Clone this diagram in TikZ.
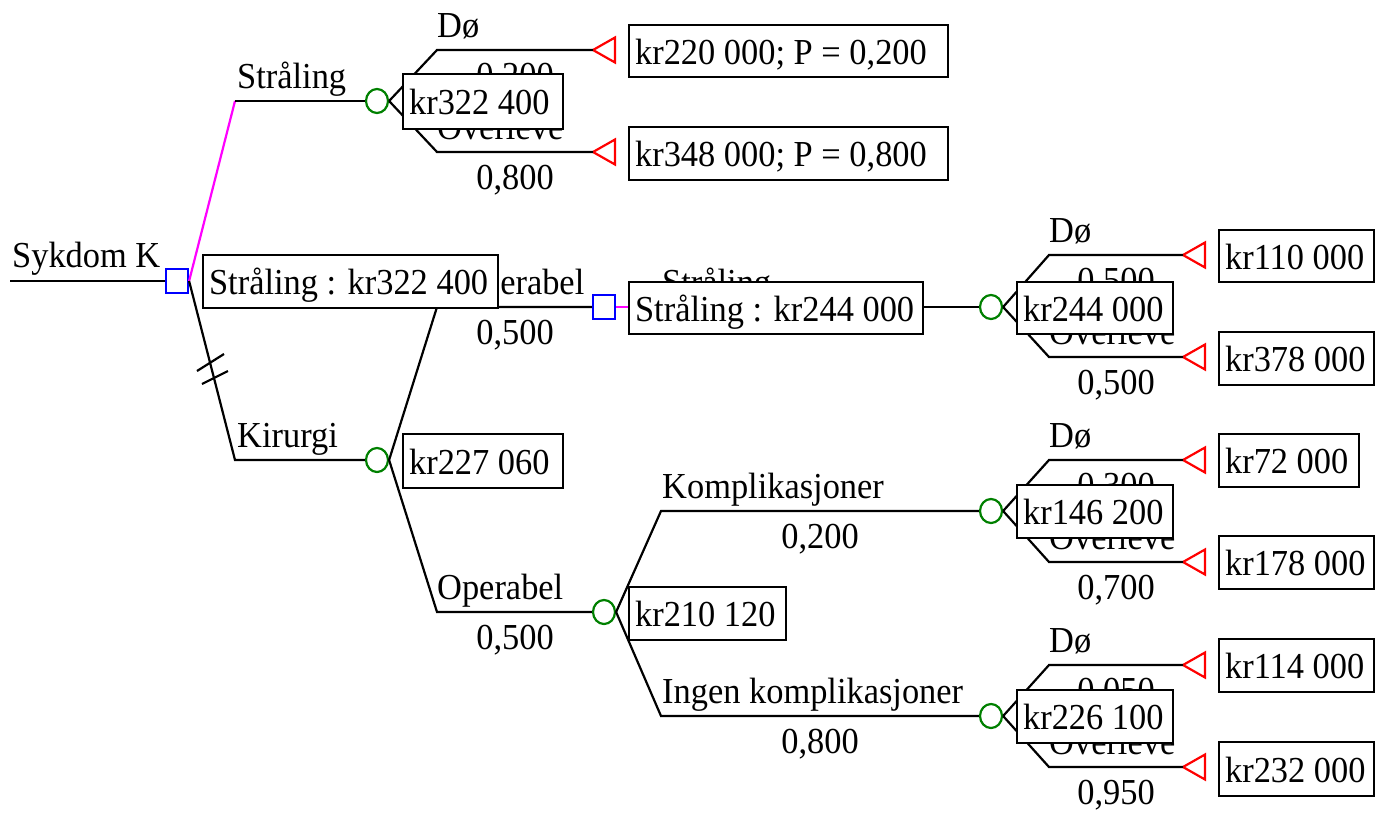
\documentclass[tikz,border=0pt]{standalone}
\usepackage{fontspec}
\setmainfont[FakeStretch=0.94]{Liberation Serif}
\usetikzlibrary{shapes.geometric}
\definecolor{tgreen}{RGB}{0,128,0}
\definecolor{tblue}{RGB}{0,0,255}
\definecolor{tmag}{RGB}{255,0,255}
\definecolor{tred}{RGB}{255,0,0}
\newcommand\valbox[6]{%
  \pgfmathsetmacro\bw{#4-#2}\pgfmathsetmacro\bh{#5-#3}%
  \node[vb, minimum height=\bh pt, anchor=north west] (#1) at (#2,#3)
    {\makebox[\bw pt][l]{\rule[-10pt]{0pt}{46pt}\hspace{6pt}#6}};}
\newcommand\term[3]{%
  \coordinate (#1) at (#2,#3);
  \draw[termline] (#1) -- ++(22,-12.5) -- ++(0,25) -- cycle;}
\begin{document}
\begin{tikzpicture}[x=1pt,y=-1pt,
  font=\fontsize{36.6}{42}\selectfont,
  ln/.style={line width=2.2pt, line join=miter},
  opt/.style={line width=2.2pt, draw=tmag},
  dec/.style={draw=tblue, line width=2.2pt, minimum width=22pt, minimum height=24pt, inner sep=0pt},
  chn/.style={ellipse, draw=tgreen, line width=2.2pt, minimum width=22pt, minimum height=24pt, inner sep=0pt},
  termline/.style={draw=tred, line width=2.2pt, line join=miter},
  vb/.style={draw, fill=white, line width=2.2pt, inner sep=0pt},
  lab/.style={inner sep=0pt, anchor=base west},
  prob/.style={inner sep=0pt, anchor=base}]
\useasboundingbox (0,0) rectangle (1380,812);

% decision and chance nodes
\node[dec] (d1) at (177,281) {};
\node[chn] (c1) at (377,101) {};
\node[chn] (c2) at (377,460) {};
\node[dec] (d2) at (604,307) {};
\node[chn] (c3) at (604,612) {};
\node[chn] (c4) at (991,307) {};
\node[chn] (c5) at (991,511) {};
\node[chn] (c6) at (991,716) {};

% terminal nodes
\term{t1}{593}{50}
\term{t2}{593}{152}
\term{t3}{1183}{255}
\term{t4}{1183}{357}
\term{t5}{1183}{460}
\term{t6}{1183}{562}
\term{t7}{1183}{665}
\term{t8}{1183}{767}

% corner coordinates
\coordinate (s0) at (10,281);
\coordinate (k1) at (235,101);
\coordinate (k2) at (235,460);
\coordinate (k3) at (437,50);
\coordinate (k4) at (437,152);
\coordinate (k5) at (437,307);
\coordinate (k6) at (437,612);
\coordinate (k7) at (661,307);
\coordinate (k8) at (1049,255);
\coordinate (k9) at (1049,357);
\coordinate (k10) at (661,511);
\coordinate (k11) at (661,716);
\coordinate (k12) at (1049,460);
\coordinate (k13) at (1049,562);
\coordinate (k14) at (1049,665);
\coordinate (k15) at (1049,767);

% connectors
\draw[ln] (s0) -- (d1.west);
\draw[opt] (d1.east) -- (k1);
\draw[ln] (k1) -- (c1.west);
\draw[ln] (d1.east) -- (k2) -- (c2.west);
\draw[ln] (197,371) -- (224,354);
\draw[ln] (202,384) -- (228,371);
\draw[ln] (c1.east) -- (k3) -- (t1);
\draw[ln] (c1.east) -- (k4) -- (t2);
\draw[ln] (c2.east) -- (k5) -- (d2.west);
\draw[ln] (c2.east) -- (k6) -- (c3.west);
\draw[opt] (d2.east) -- (k7);
\draw[ln] (k7) -- (c4.west);
\draw[ln] (c4.east) -- (k8) -- (t3);
\draw[ln] (c4.east) -- (k9) -- (t4);
\draw[ln] (c3.east) -- (k10) -- (c5.west);
\draw[ln] (c3.east) -- (k11) -- (c6.west);
\draw[ln] (c5.east) -- (k12) -- (t5);
\draw[ln] (c5.east) -- (k13) -- (t6);
\draw[ln] (c6.east) -- (k14) -- (t7);
\draw[ln] (c6.east) -- (k15) -- (t8);

% labels
\node[lab] (lroot) at (12,267) {Sykdom K};
\node[lab] (l1) at (237,88) {Stråling};
\node[lab] (l2) at (237,447) {Kirurgi};
\node[lab] (l3) at (437,37) {Dø};
\node[prob] (p3) at (515,87) {0,200};
\node[lab] (l4) at (437,139) {Overleve};
\node[prob] (p4) at (515,189) {0,800};
\node[lab] (l5) at (437,294) {Inoperabel};
\node[prob] (p5) at (515,344) {0,500};
\node[lab] (l6) at (437,599) {Operabel};
\node[prob] (p6) at (515,649) {0,500};
\node[lab] (l7) at (662,294) {Stråling};
\node[lab] (l8) at (1049,242) {Dø};
\node[prob] (p8) at (1116,292) {0,500};
\node[lab] (l9) at (1049,344) {Overleve};
\node[prob] (p9) at (1116,394) {0,500};
\node[lab] (l10) at (662,498) {Komplikasjoner};
\node[prob] (p10) at (820,548) {0,200};
\node[lab] (l11) at (662,703) {Ingen komplikasjoner};
\node[prob] (p11) at (820,753) {0,800};
\node[lab] (l12) at (1049,447) {Dø};
\node[prob] (p12) at (1116,497) {0,300};
\node[lab] (l13) at (1049,549) {Overleve};
\node[prob] (p13) at (1116,599) {0,700};
\node[lab] (l14) at (1049,652) {Dø};
\node[prob] (p14) at (1116,702) {0,050};
\node[lab] (l15) at (1049,754) {Overleve};
\node[prob] (p15) at (1116,804) {0,950};

% value boxes
\valbox{b1}{628}{24}{947}{76}{kr220 000; P = 0,200}
\valbox{b2}{628}{126}{947}{179}{kr348 000; P = 0,800}
\valbox{bc1}{402}{73}{562}{128}{kr322 400}
\valbox{bd1}{202}{254}{497}{307}{Stråling : kr322 400}
\valbox{bc2}{402}{433}{562}{487}{kr227 060}
\valbox{bd2}{628}{281}{922}{333}{Stråling : kr244 000}
\valbox{bc4}{1016}{281}{1172}{333}{kr244 000}
\valbox{b3}{1218}{229}{1373}{281}{kr110 000}
\valbox{b4}{1218}{331}{1373}{384}{kr378 000}
\valbox{bc3}{628}{586}{785}{639}{kr210 120}
\valbox{bc5}{1016}{484}{1172}{537}{kr146 200}
\valbox{b5}{1218}{433}{1358}{486}{kr72 000}
\valbox{b6}{1218}{535}{1373}{588}{kr178 000}
\valbox{bc6}{1016}{689}{1172}{742}{kr226 100}
\valbox{b7}{1218}{638}{1373}{691}{kr114 000}
\valbox{b8}{1218}{741}{1373}{795}{kr232 000}
\end{tikzpicture}
\end{document}
